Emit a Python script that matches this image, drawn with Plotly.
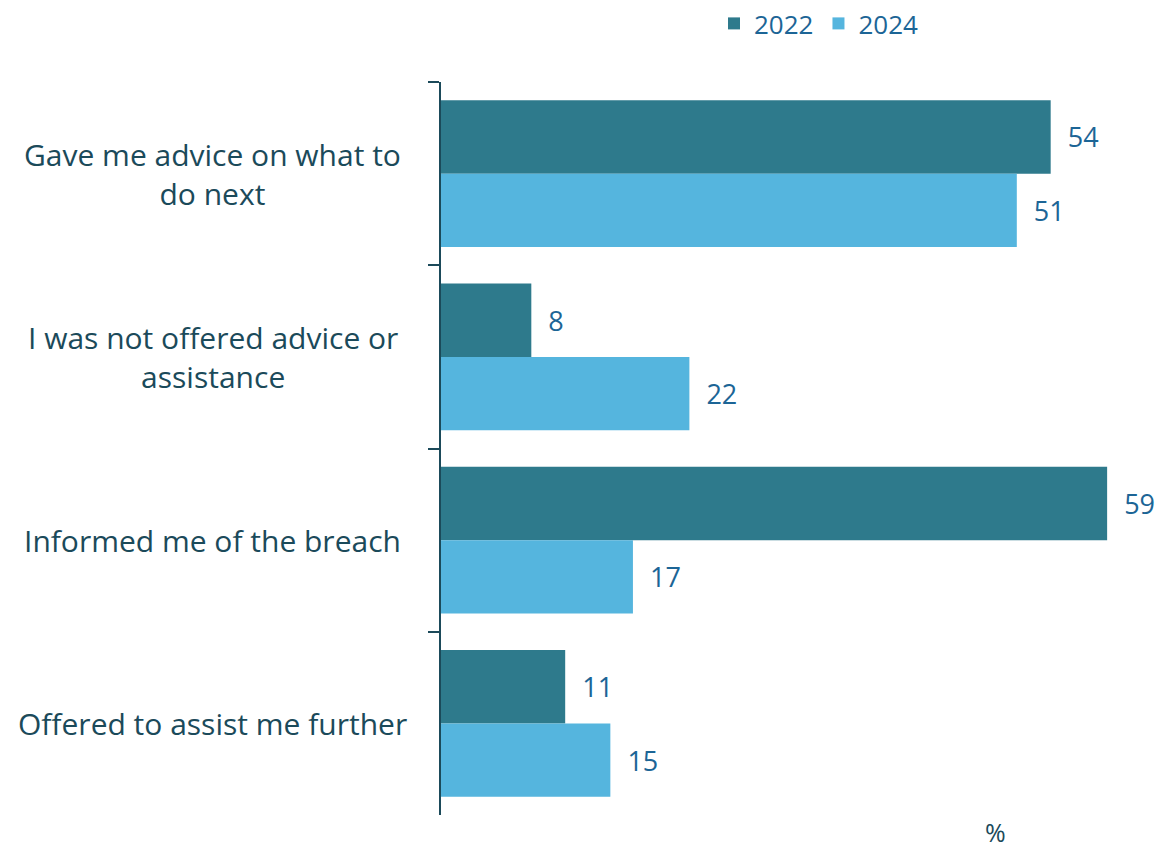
import plotly.graph_objects as go

categories = ["Gave me advice on what to do next", "I was not offered advice or assistance",
              "Informed me of the breach", "Offered to assist me further"]
label_text = ["Gave me advice on what to<br>do next", "I was not offered advice or<br>assistance",
              "Informed me of the breach", "Offered to assist me further"]
values_2022 = [54, 8, 59, 11]
values_2024 = [51, 22, 17, 15]

C2022 = "#2e7a8c"
C2024 = "#55b5de"
LABEL_BLUE = "#1c6596"
DARK = "#1b4a5a"
FONT = "Open Sans"

fig = go.Figure()
for name, vals, col in [("2022", values_2022, C2022), ("2024", values_2024, C2024)]:
    fig.add_trace(go.Bar(
        name=name, y=categories, x=vals, orientation="h", marker_color=col,
        marker_line_width=0,
        text=vals, texttemplate="\u00a0\u00a0%{x}", textposition="outside",
        textfont=dict(family=FONT, size=27, color=LABEL_BLUE),
        cliponaxis=False,
    ))

for cat, lab in zip(categories, label_text):
    fig.add_annotation(x=-0.326, xref="paper", y=cat, yref="y", text=lab, showarrow=False,
                       xanchor="center", align="center",
                       font=dict(family=FONT, size=30, color=DARK))

fig.add_annotation(x=(995 - 441) / 700 * 62, xref="x", y=0, yref="paper", text="%",
                   showarrow=False, xanchor="center", yanchor="top", yshift=2,
                   font=dict(family=FONT, size=25, color=DARK))

fig.update_layout(
    width=1160, height=849,
    margin=dict(l=441, r=19, t=82, b=34),
    paper_bgcolor="white", plot_bgcolor="white",
    barmode="group", bargap=0.2, bargroupgap=0,
    font=dict(family=FONT, color=DARK),
    showlegend=True,
    legend=dict(orientation="h", x=0.39, xanchor="left", y=1, yref="container", yanchor="top",
                font=dict(family=FONT, size=26, color=LABEL_BLUE), itemwidth=30,
                bgcolor="rgba(0,0,0,0)"),
    xaxis=dict(range=[0, 62], showgrid=False, zeroline=False, showticklabels=False,
               showline=False, ticks=""),
    yaxis=dict(type="category", autorange="reversed", showticklabels=False, showgrid=False,
               showline=True, linecolor=DARK, linewidth=2, ticks="outside", tickson="boundaries",
               ticklen=11, tickwidth=2, tickcolor=DARK, zeroline=False),
)

fig.write_html("out.html")
